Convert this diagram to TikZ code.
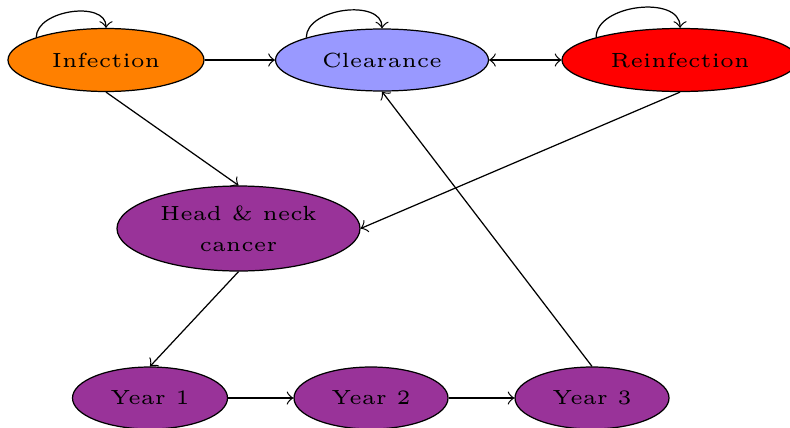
\documentclass[tikz,border=0pt]{standalone}
\usetikzlibrary{shapes.geometric}
\newcommand\pxu{0.244pt}
\begin{document}
\begin{tikzpicture}[x=0.244pt,y=-0.244pt, line width=0.3pt,
  st/.style={ellipse, draw, inner sep=0pt, font=\fontsize{5}{7.5}\selectfont, align=center},
  selfloop/.style={->, out=90, in=90, looseness=1.0}]
\useasboundingbox (0,0) rectangle (790,427);
\node[st, fill=orange, minimum width=196*\pxu, minimum height=63*\pxu] (inf) at (106,60) {Infection};
\node[st, fill=blue!40, minimum width=213*\pxu, minimum height=62*\pxu] (clr) at (382,60) {Clearance};
\node[st, fill=red, minimum width=236*\pxu, minimum height=63*\pxu] (rei) at (680,60) {Reinfection};
\node[st, fill=violet!80, minimum width=243*\pxu, minimum height=85*\pxu] (hnc) at (238.5,228.5) {Head \& neck\\cancer};
\node[st, fill=violet!80, minimum width=155*\pxu, minimum height=62*\pxu] (y1) at (150,398) {Year 1};
\node[st, fill=violet!80, minimum width=154*\pxu, minimum height=62*\pxu] (y2) at (371,398) {Year 2};
\node[st, fill=violet!80, minimum width=154*\pxu, minimum height=62*\pxu] (y3) at (592,398) {Year 3};
\draw[->] (inf) -- (clr);
\draw[<->] (clr) -- (rei);
\draw[->] (inf.south) -- (hnc.north);
\draw[->] (rei.south) -- (hnc.east);
\draw[->] (hnc.south) -- (y1.north);
\draw[->] (y1) -- (y2);
\draw[->] (y2) -- (y3);
\draw[->] (y3.north) -- (clr.south);
\draw[selfloop] (inf.north west) to (inf.north);
\draw[selfloop] (clr.north west) to (clr.north);
\draw[selfloop] (rei.north west) to (rei.north);
\end{tikzpicture}
\end{document}
